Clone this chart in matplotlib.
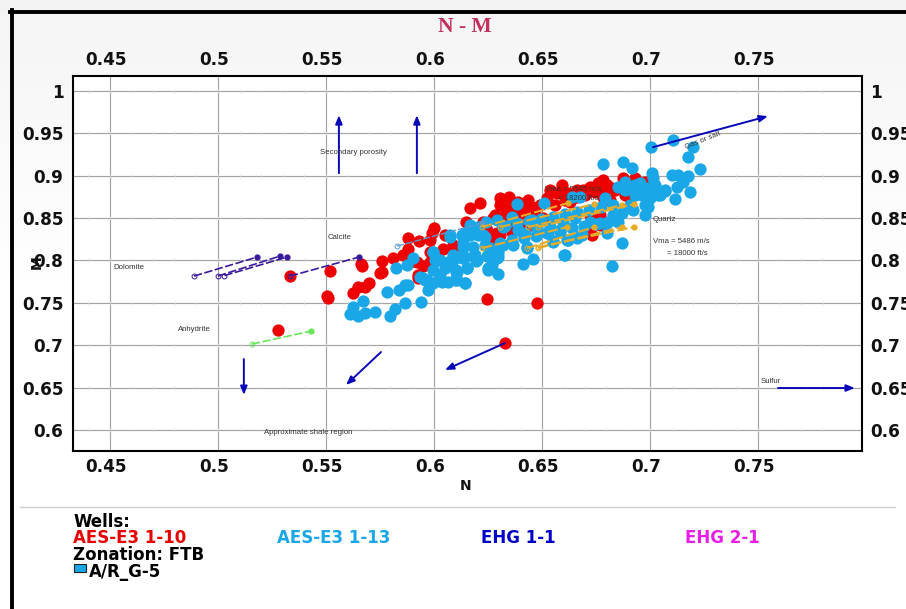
import matplotlib
matplotlib.use('Agg')
import matplotlib.pyplot as plt
from matplotlib.lines import Line2D
from matplotlib.patches import Rectangle
from matplotlib.transforms import ScaledTranslation
import numpy as np

x_ticks = [0.45, 0.5, 0.55, 0.6, 0.65, 0.7, 0.75]
x_tick_labels = ['0.45', '0.5', '0.55', '0.6', '0.65', '0.7', '0.75']
y_ticks = [0.6, 0.65, 0.7, 0.75, 0.8, 0.85, 0.9, 0.95, 1.0]
y_tick_labels = ['0.6', '0.65', '0.7', '0.75', '0.8', '0.85', '0.9', '0.95', '1']

# well AES-E3 1-10
red_n = [.5278, .5333, .5519, .5505, .551, .6329, .6245, .6477, .5625, .5648, .568, .5699, .575, .5759,
         .5667, .5662, .5759, .581, .5856, .588, .588, .593, .6, .5991, .5981, .5949, .5926, .5981, .6042,
         .6088, .6148, .6167, .6213, .6306, .6347, .6227, .6273, .6338, .6389, .6435, .6454, .6412, .6366,
         .6319, .6292, .6245, .6269, .6537, .6593, .6569, .662, .6662, .6505, .6523, .6782, .6759, .6801,
         .6722, .669, .6824, .6875, .6931, .6977, .6907, .6769, .6731, .6782, .6662, .663,
         .6282, .6329, .6375, .6421, .6468, .6306, .6361, .6398, .6444, .6491, .6306, .6352,
         .656, .6606, .6653, .6699, .6745, .6792, .6838, .6722, .6769, .6722, .6815, .6884,
         .6051, .6097, .5981, .5921, .5889, .5926]
red_m = [.7179, .7816, .7875, .758, .7557, .7026, .7545, .7498, .7616, .7686, .7686, .7733, .7851, .7863,
         .7934, .7958, .7993, .8028, .8064, .8134, .827, .8229, .8382, .8323, .824, .7934, .7792, .8099, .8134,
         .8182, .8453, .8618, .8677, .8736, .8748, .8453, .85, .8594, .8689, .8712, .863, .8559, .8476,
         .8394, .8323, .8358, .824, .883, .8889, .8795, .8795, .883, .85, .8736, .8948, .8913, .8889,
         .8866, .883, .8854, .8972, .8972, .8925, .8736, .8535, .83, .8748, .8748, .8689,
         .8537, .8537, .8537, .8596, .8537, .8301, .8336, .8419, .8419, .8655, .8655, .8655,
         .8655, .8714, .8773, .8773, .8808, .8832, .8832, .8537, .8419, .8336, .8714, .8773,
         .83, .8124, .7982, .7982, .7982, .7829]

# well AES-E3 1-13
blue_n = [.5611, .5625, .5648, .5671, .568, .5727, .5796, .5819, .5866, .594, .5782, .5838, .5866, .588,
          .5824, .5875, .5903, .5949, .5968, .5995, .6005, .5995, .6028, .6037, .6065, .6106, .6144, .6102,
          .6153, .6074, .6074, .613, .6134, .6106, .6144, .6144, .6204, .6167, .6134, .6181, .6227, .6088,
          .6153, .6102, .6097, .6144, .6194, .6245, .6296, .6292, .6269, .625, .6296, .6412, .6458, .6606,
          .6384, .6509, .6292, .6361, .6319, .6389, .6454, .6366, .6431, .6421, .6477, .6537, .6597, .6653,
          .6551, .6616, .6662, .6523, .6583, .6319, .6259, .7005, .7106, .7199, .7176, .7231, .6782, .6875,
          .6917, .7009, .7014, .7102, .713, .7176, .7153, .7125, .7185, .7116, .7069, .7037, .7, .6963,
          .6986, .6954, .6884, .6852, .6921, .6991, .6977, .6921, .687, .6829, .6852, .687, .6824, .6602,
          .6769, .6722, .6801, .6685, .662, .6551, .6792, .6639, .6676, .6431,
          .6167, .6204, .6241, .6236, .619, .613, .6083, .6051, .6028, .5995, .5972, .5935, .5958,
          .5995, .6019, .6065, .6106, .6199, .625, .6296, .6074, .6134, .619, .6236,
          .6306, .6361, .6417, .6472, .6528, .6583, .6639, .6694, .675, .6806,
          .6329, .6384, .644, .6495, .6551, .6606, .6662, .6718, .6773, .6829,
          .6884, .6931, .6977, .6907, .7023, .7046, .6884, .6931, .6963, .6986, .7014, .7046, .7069]
blue_m = [.7368, .745, .7344, .7521, .738, .7392, .7344, .7427, .7498, .7509, .7627, .7651, .771, .771,
          .791, .7946, .8028, .7792, .7769, .8099, .8005, .7887, .8005, .7745, .7745, .7769, .7733, .7863,
          .791, .7969, .8276, .83, .8158, .804, .804, .8323, .8394, .83, .8205, .8158, .83, .8064,
          .791, .7887, .7769, .7733, .7993, .8052, .8087, .8028, .7946, .7887, .7839, .7958, .8016, .8064,
          .8665, .8677, .8476, .8512, .8394, .8358, .8476, .8182, .8158, .8323, .8382, .8394, .8453, .85,
          .8229, .824, .8264, .8323, .8335, .8182, .8146, .9337, .942, .9337, .9219, .9078, .9137, .916,
          .909, .903, .8972, .9007, .9007, .8995, .8925, .8866, .8807, .8724, .8818, .8771, .8736, .8771,
          .8854, .8913, .8913, .8866, .8854, .863, .8535, .8594, .8559, .8535, .8453, .8205, .7934, .8064,
          .8441, .8453, .8323, .83, .824, .8217, .8736, .8748, .8748, .8146,
          .8419, .8301, .8454, .8183, .8065, .8029, .7982, .7911, .7829, .7735, .7652, .7805, .777,
          .81, .8006, .7982, .7864, .8006, .7911, .8041, .83, .8277, .8336, .8277,
          .8206, .8242, .8265, .8289, .8324, .836, .8383, .8407, .8431, .8454,
          .8407, .8442, .8466, .849, .8513, .8549, .8572, .8596, .8631, .8655,
          .8832, .8773, .8655, .8655, .8891, .8773, .8926, .8891, .8855, .8797, .8855, .8797, .8832]

# overlay lines: [n0, n1], [m0, m1], open point at the first end
purple_lines = [([.4889, .5181], [.7816, .804]),
                ([.5, .5287], [.7816, .8052]),
                ([.503, .5319], [.7822, .804]),
                ([.5333, .5653], [.7816, .804])]
green_lines = [([.5157, .5431], [.7014, .7167])]
steel_lines = [([.5829, .6222], [.817, .8441])]
gold_lines = [([.6222, .662], [.8394, .8677]),
              ([.6306, .6741], [.8394, .8665]),
              ([.6435, .687], [.8394, .8653]),
              ([.6481, .6926], [.8394, .8665]),
              ([.6222, .6616], [.8146, .8394]),
              ([.6431, .6741], [.8146, .8394]),
              ([.6481, .687], [.8146, .8394]),
              ([.6481, .6926], [.8158, .8394])]

# arrows: tail, head
arrows = [((.556, .903), (.556, .9715)),
          ((.5921, .903), (.5921, .9715)),
          ((.7014, .9337), (.7546, .9703)),
          ((.512, .6837), (.512, .6413)),
          ((.5755, .692), (.5593, .6531)),
          ((.6329, .7026), (.6051, .6708)),
          ((.7593, .6495), (.7949, .6495))]

notes = [('Secondary porosity', .5472, .928, 0),
         ('Calcite', .5509, .8277, 0),
         ('Dolomite', .4514, .7923, 0),
         ('Anhydrite', .4815, .718, 0),
         ('Approximate shale region', .5213, .5976, 0),
         ('Sulfur', .7514, .6578, 0),
         ('Quartz', .7014, .8478, 0),
         ('Vma = 5486 m/s', .7014, .823, 0),
         ('= 18000 ft/s', .7079, .8077, 0),
         ('Vma = 5545 m/s', .6514, .8832, 0),
         ('= 18200 ft/s', .6574, .8736, 0),
         ('Gas or salt', .7165, .9335, 22)]

wells = ['AES-E3 1-10', 'AES-E3 1-13', 'EHG 1-1', 'EHG 2-1']
well_colors = ['#e60000', '#1aa7e8', '#0000c8', '#e81ee8']
well_x = [73, 277, 481, 685]

W, H = 906, 609
plt.rcParams['font.weight'] = 'bold'
fig = plt.figure(figsize=(W / 100, H / 100), dpi=100, facecolor='white')

# panel shading fades from light grey at the top to white
shade = np.ones((H, W))
shade[:300] = np.linspace(.955, 1, 300)[:, None]
fig.figimage(shade, cmap='gray', vmin=0, vmax=1, origin='upper', zorder=-10)

ax = fig.add_axes([73 / W, 1 - 451 / H, (862.5 - 73) / W, (451 - 76) / H])
ax.set_xlim(.4329, .7984)
ax.set_ylim(.5752, 1.0177)


def px(x, y):
    return x / W, 1 - y / H


# heavy outer frame
fig.add_artist(Line2D([11.5 / W, 11.5 / W], [0, 1 - 10 / H], color='black', lw=2.8))
fig.add_artist(Line2D([10 / W, 1], [1 - 11.5 / H, 1 - 11.5 / H], color='black', lw=2.8))
fig.add_artist(Line2D([20 / W, 895 / W], [1 - 507 / H, 1 - 507 / H], color='#d0d0d0', lw=1))

ax.set_xticks(x_ticks)
ax.set_xticklabels(x_tick_labels)
ax.set_yticks(y_ticks)
ax.set_yticklabels(y_tick_labels)
ax.tick_params(axis='both', length=0, labelsize=12.2, labelcolor='#111111')
ax.tick_params(axis='x', top=True, labeltop=True, pad=5)
ax.tick_params(axis='y', right=True, labelright=True, pad=5.5)
ax.tick_params(axis='y', labelleft=True)
shift = ScaledTranslation(-4 / 100, 0, fig.dpi_scale_trans)
for t in ax.xaxis.get_major_ticks():
    t.label1.set_transform(t.label1.get_transform() + shift)
    t.label2.set_transform(t.label2.get_transform() + shift)
left_shift = ScaledTranslation(-2 / 100, 0, fig.dpi_scale_trans)
for t in ax.yaxis.get_major_ticks():
    t.label1.set_transform(t.label1.get_transform() + left_shift)

ax.grid(True, color='#a4a4a4', lw=.85, zorder=1)
ax.set_axisbelow(True)
for s in ax.spines.values():
    s.set_linewidth(1.5)
    s.set_color('black')

# faint minor marks along the horizontal gridlines
minor_n = np.arange(.44, .79, .01)
for yt in y_ticks:
    ax.plot(minor_n, [yt] * len(minor_n), ls='none', marker='|', ms=3, mew=.5, color='#dddddd', zorder=1.5)

ax.scatter(red_n, red_m, s=78, color='#ee0000', linewidths=0, zorder=3)
ax.scatter(blue_n, blue_m, s=78, color='#1aa7e8', linewidths=0, zorder=4)


def overlay(lines, color, lw=1.2):
    for n, m in lines:
        ax.plot(n, m, color=color, lw=lw, ls=(0, (5, 1.5)), zorder=5)
        ax.plot(n[0], m[0], 'o', ms=3.5, mfc='none', mec=color, mew=.7, zorder=5)
        ax.plot(n[1], m[1], 'o', ms=3.5, color=color, zorder=5)


overlay(purple_lines, '#3a1a9c')
overlay(green_lines, '#66e85a')
overlay(steel_lines, '#5b9bd0', lw=1)
overlay(gold_lines, '#e6ac28', lw=1.5)

for tail, head in arrows:
    ax.annotate('', xy=head, xytext=tail, zorder=6,
                arrowprops=dict(arrowstyle='-|>,head_length=.5,head_width=.2', color='#0808b8',
                                lw=1.4, shrinkA=0, shrinkB=0))

for txt, n, m, rot in notes:
    ax.text(n, m, txt, fontsize=5.6, family='Liberation Sans', fontweight='normal', color='#333333',
            va='center', ha='left', rotation=rot, rotation_mode='anchor', zorder=7)

fig.text(465 / W, 1 - 27 / H, 'N - M', family='Liberation Serif', fontsize=15.5,
         color='#c2305c', ha='center', va='center')
fig.text(466 / W, 1 - 486 / H, 'N', fontsize=10, color='#111111', ha='center', va='center')
fig.text(37 / W, 1 - 262 / H, 'M', fontsize=10, color='#111111', rotation=90, ha='center', va='center')

# legend block
fig.text(73 / W, 1 - 522 / H, 'Wells:', fontsize=12, color='black', va='center')
for name, col, x in zip(wells, well_colors, well_x):
    fig.text(x / W, 1 - 538 / H, name, fontsize=12, color=col, va='center')
fig.text(73 / W, 1 - 555 / H, 'Zonation: FTB', fontsize=12, color='black', va='center')
fig.text(89 / W, 1 - 572 / H, 'A/R_G-5', fontsize=12, color='black', va='center')
fig.add_artist(Rectangle(px(74, 572), 12 / W, 8 / H, transform=fig.transFigure,
                         facecolor='#1aa7e8', edgecolor='#222222', lw=.8))

fig.savefig('out.png', dpi=100)
